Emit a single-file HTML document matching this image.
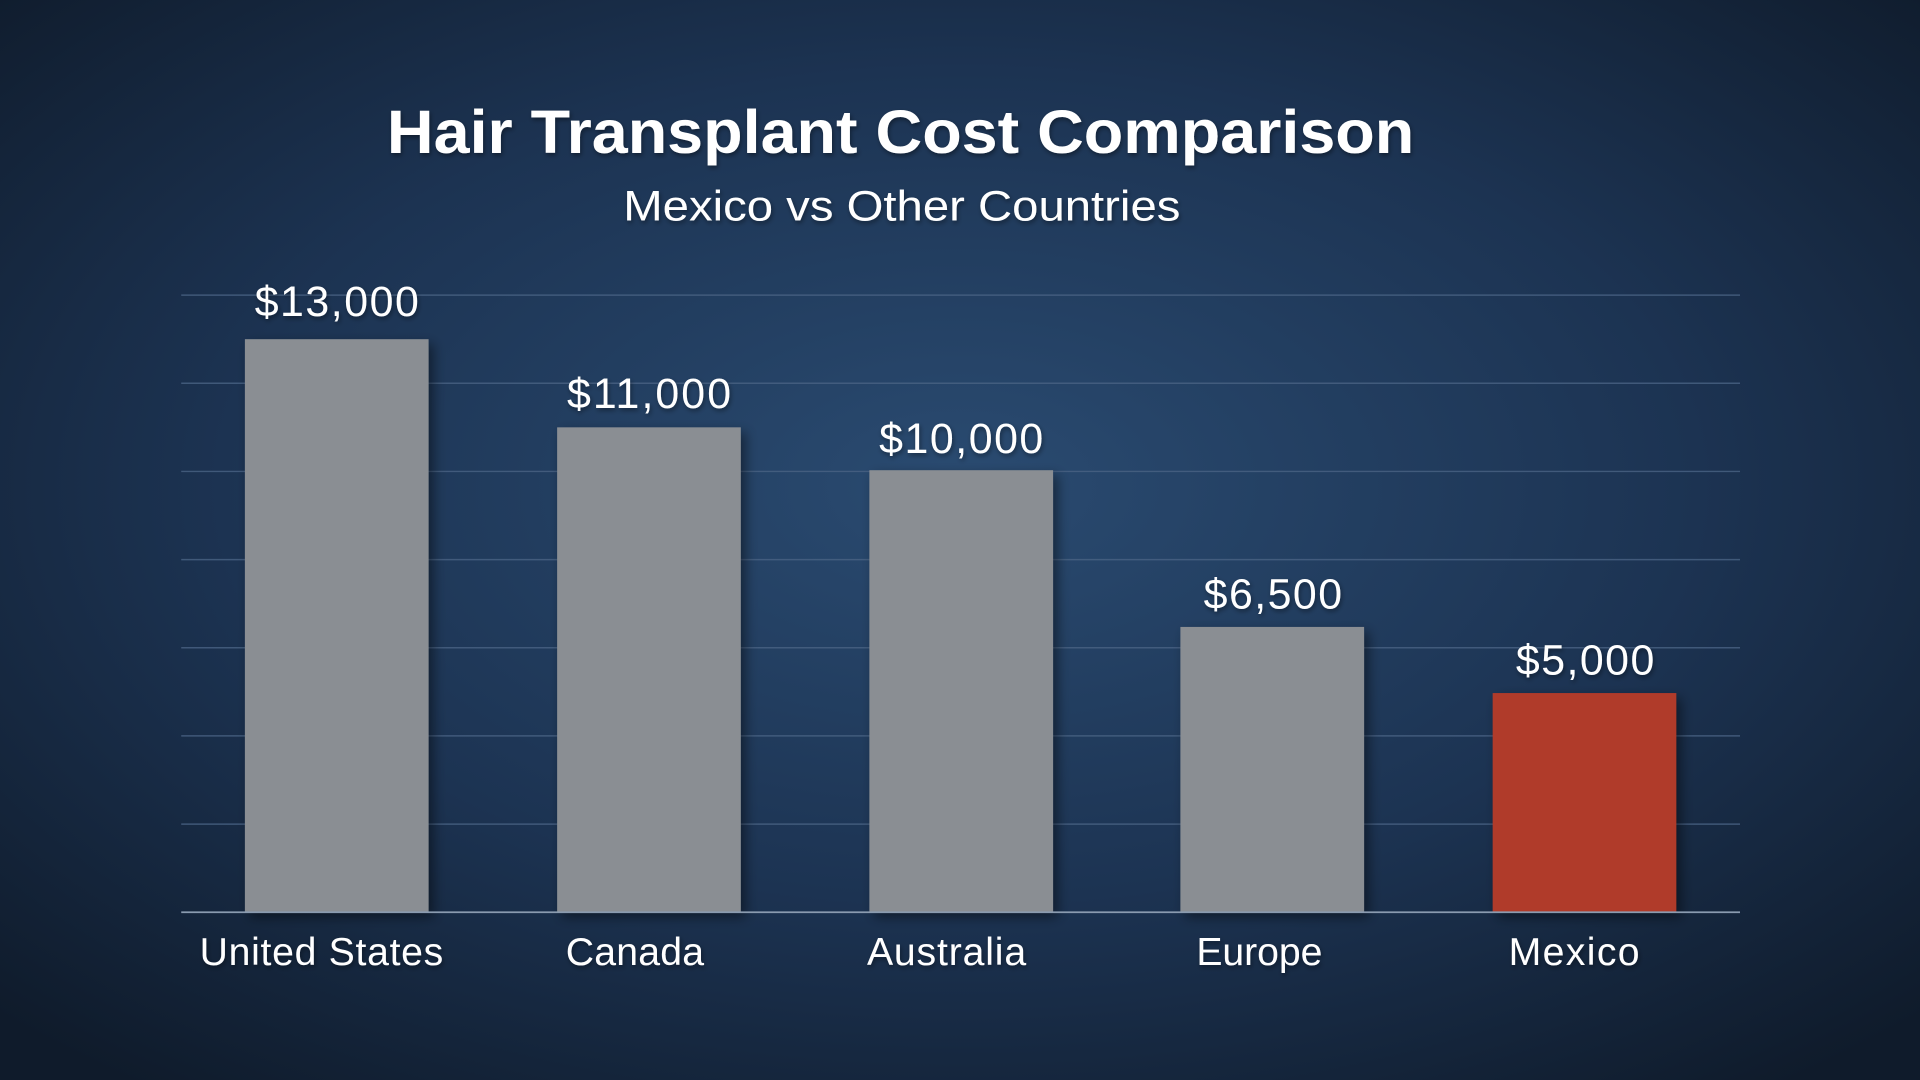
<!DOCTYPE html>
<html><head><meta charset="utf-8"><style>
html,body{margin:0;padding:0;width:1920px;height:1080px;overflow:hidden;background:#142740}
svg{display:block}
text{font-family:"Liberation Sans",sans-serif;fill:#fff}
</style></head><body>
<svg width="1920" height="1080" viewBox="0 0 1568 882" preserveAspectRatio="none">
<defs>
<radialGradient id="bg" cx="50%" cy="45%" r="70%">
<stop offset="0" stop-color="#2a4b71"/>
<stop offset="0.55" stop-color="#1c3352"/>
<stop offset="1" stop-color="#0f1b2b"/>
</radialGradient>
<filter id="sh" x="-20%" y="-10%" width="150%" height="130%">
<feDropShadow dx="4" dy="4" stdDeviation="5" flood-color="#000" flood-opacity="0.45"/>
</filter>
<filter id="ts"><feDropShadow dx="1" dy="2" stdDeviation="2" flood-color="#000" flood-opacity="0.4"/></filter>
</defs>
<rect width="1568" height="882" fill="url(#bg)"/>
<g stroke="#4a6384" stroke-width="1.2" opacity="0.8">
<line x1="148" x2="1421" y1="241" y2="241"/>
<line x1="148" x2="1421" y1="313" y2="313"/>
<line x1="148" x2="1421" y1="385" y2="385"/>
<line x1="148" x2="1421" y1="457" y2="457"/>
<line x1="148" x2="1421" y1="529" y2="529"/>
<line x1="148" x2="1421" y1="601" y2="601"/>
<line x1="148" x2="1421" y1="673" y2="673"/>
</g>
<g filter="url(#sh)">
<rect x="200" y="277" width="150" height="468" fill="#8a8e93"/>
<rect x="455" y="349" width="150" height="396" fill="#8a8e93"/>
<rect x="710" y="384" width="150" height="361" fill="#8a8e93"/>
<rect x="964" y="512" width="150" height="233" fill="#8a8e93"/>
<rect x="1219" y="566" width="150" height="179" fill="#b03a29"/>
</g>
<line x1="148" x2="1421" y1="745" y2="745" stroke="#8a9bb0" stroke-width="1.5"/>
<g filter="url(#ts)">
<text x="316" y="125" font-size="50" font-weight="bold" textLength="839" lengthAdjust="spacingAndGlyphs">Hair Transplant Cost Comparison</text>
<text x="509" y="180" font-size="35" textLength="455" lengthAdjust="spacingAndGlyphs">Mexico vs Other Countries</text>
<g font-size="35" lengthAdjust="spacingAndGlyphs">
<text x="208" y="258" textLength="134">$13,000</text>
<text x="463" y="333" textLength="134">$11,000</text>
<text x="718" y="370" textLength="134">$10,000</text>
<text x="983" y="497" textLength="113">$6,500</text>
<text x="1238" y="551" textLength="113">$5,000</text>
</g>
<g font-size="32" lengthAdjust="spacingAndGlyphs">
<text x="163" y="788" textLength="199">United States</text>
<text x="462" y="788" textLength="113">Canada</text>
<text x="708" y="788" textLength="130">Australia</text>
<text x="977" y="788" textLength="103">Europe</text>
<text x="1232" y="788" textLength="107">Mexico</text>
</g>
</g>
</svg>
</body></html>
